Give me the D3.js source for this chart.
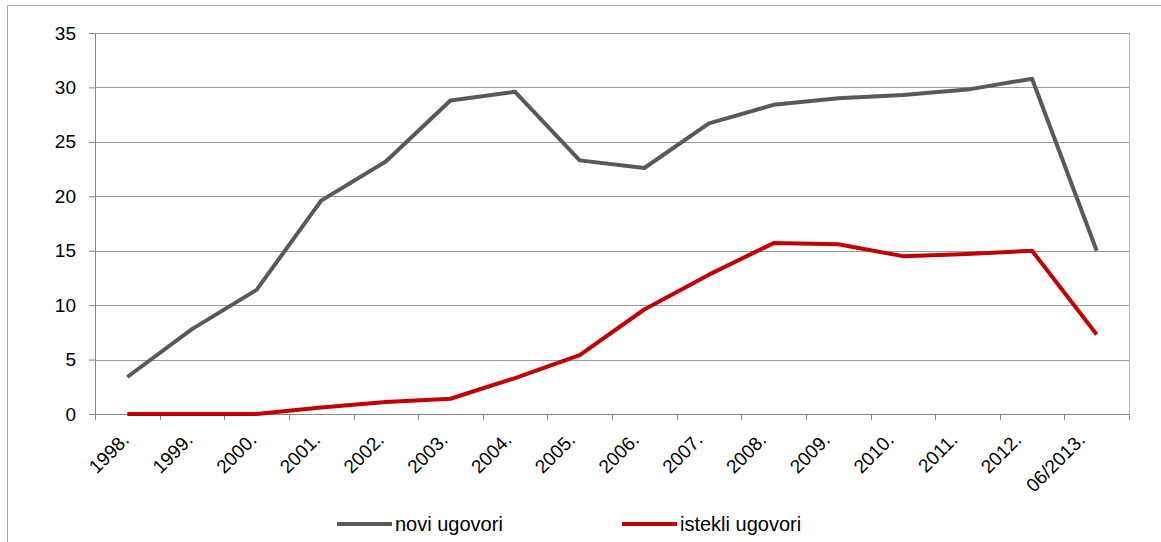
<!DOCTYPE html>
<html>
<head>
<meta charset="utf-8">
<script src="https://cdn.jsdelivr.net/npm/d3@7"></script>
<style>
  body { margin: 0; background: #fff; }
  svg { display: block; font-family: "Liberation Sans", Arial, sans-serif; }
</style>
</head>
<body>
<div id="chart"></div>
<script>
// kategorije (godine)
const categories = ['1998.', '1999.', '2000.', '2001.', '2002.', '2003.', '2004.', '2005.',
    '2006.', '2007.', '2008.', '2009.', '2010.', '2011.', '2012.', '06/2013.'];
// serije
const noviUgovori = [3.4, 7.8, 11.4, 19.6, 23.2, 28.8, 29.6, 23.3, 22.6, 26.7, 28.4, 29.0, 29.3, 29.8, 30.8, 15.0];
const istekliUgovori = [0, 0, 0, 0.6, 1.1, 1.4, 3.3, 5.4, 9.6, 12.8, 15.7, 15.6, 14.5, 14.7, 15.0, 7.3];
const yTicks = [0, 5, 10, 15, 20, 25, 30, 35];
const seriesNames = ['novi ugovori', 'istekli ugovori'];

function drawChart() {
    const W = 1161, H = 542;
    const margin = { top: 33, right: 32, bottom: 128, left: 95 };
    const width = W - margin.left - margin.right;
    const height = H - margin.top - margin.bottom;

    const svg = d3.select('#chart').append('svg')
        .attr('width', W)
        .attr('height', H);

    // okvir grafikona
    svg.append('rect')
        .attr('x', 7.5).attr('y', 5.5)
        .attr('width', W + 20).attr('height', H + 20)
        .attr('fill', 'none')
        .attr('stroke', '#a6a6a6')
        .attr('stroke-width', 1);

    const g = svg.append('g')
        .attr('transform', `translate(${margin.left},${margin.top})`);

    const x = d3.scaleBand().domain(categories).range([0, width]);
    const y = d3.scaleLinear().domain([0, 35]).range([height, 0]);

    // mreža
    g.selectAll('.grid')
        .data(yTicks)
        .enter().append('line')
        .attr('x1', 0).attr('x2', width)
        .attr('y1', d => Math.round(y(d)) + 0.5)
        .attr('y2', d => Math.round(y(d)) + 0.5)
        .attr('stroke', '#9a9a9a')
        .attr('stroke-width', 1);

    // desni rub
    g.append('line')
        .attr('x1', width + 0.5).attr('x2', width + 0.5)
        .attr('y1', 0).attr('y2', height)
        .attr('stroke', '#bfbfbf');

    // Y os
    const yAxis = g.append('g')
        .call(d3.axisLeft(y).tickValues(yTicks).tickSize(6).tickPadding(13));
    yAxis.select('.domain').attr('stroke', '#868686');
    yAxis.selectAll('.tick line').attr('stroke', '#868686');
    yAxis.selectAll('.tick text')
        .attr('font-size', 19)
        .attr('font-family', '"Liberation Sans", Arial, sans-serif')
        .attr('fill', '#000');

    // X os
    const xAxis = g.append('g')
        .attr('transform', `translate(0,${height})`);
    xAxis.append('line')
        .attr('x1', 0).attr('x2', width)
        .attr('y1', 0.5).attr('y2', 0.5)
        .attr('stroke', '#868686');
    xAxis.selectAll('.xtick')
        .data(categories.concat(['__end']))
        .enter().append('line')
        .attr('x1', (d, i) => Math.round(i * x.step()) + 0.5)
        .attr('x2', (d, i) => Math.round(i * x.step()) + 0.5)
        .attr('y1', 0).attr('y2', 6)
        .attr('stroke', '#868686');
    xAxis.selectAll('.xlabel')
        .data(categories)
        .enter().append('text')
        .attr('transform', (d, i) => `translate(${x(d) + x.bandwidth() / 2 + 3 - i * 0.9},${27}) rotate(-45)`)
        .attr('text-anchor', 'end')
        .attr('font-size', 19)
        .attr('fill', '#000')
        .text(d => d);

    // linije
    const line = d3.line()
        .x((d, i) => x(categories[i]) + x.bandwidth() / 2)
        .y(d => y(d));

    g.append('path')
        .datum(noviUgovori)
        .attr('fill', 'none')
        .attr('stroke', '#595959')
        .attr('stroke-width', 4)
        .attr('stroke-linejoin', 'round')
        .attr('d', line);

    g.append('path')
        .datum(istekliUgovori)
        .attr('fill', 'none')
        .attr('stroke', '#c00000')
        .attr('stroke-width', 4)
        .attr('stroke-linejoin', 'round')
        .attr('d', line);

    // legenda
    const legendItems = [
        { name: seriesNames[0], color: '#595959', x: 337 },
        { name: seriesNames[1], color: '#c00000', x: 622 }
    ];
    const legend = svg.selectAll('.legend')
        .data(legendItems)
        .enter().append('g')
        .attr('transform', d => `translate(${d.x},524)`);
    legend.append('line')
        .attr('x1', 0).attr('x2', 55)
        .attr('y1', 0).attr('y2', 0)
        .attr('stroke', d => d.color)
        .attr('stroke-width', 4);
    legend.append('text')
        .attr('x', 58)
        .attr('y', 7)
        .attr('font-size', 20)
        .attr('fill', '#000')
        .text(d => d.name);
}

document.addEventListener('DOMContentLoaded', drawChart);
</script>
</body>
</html>
